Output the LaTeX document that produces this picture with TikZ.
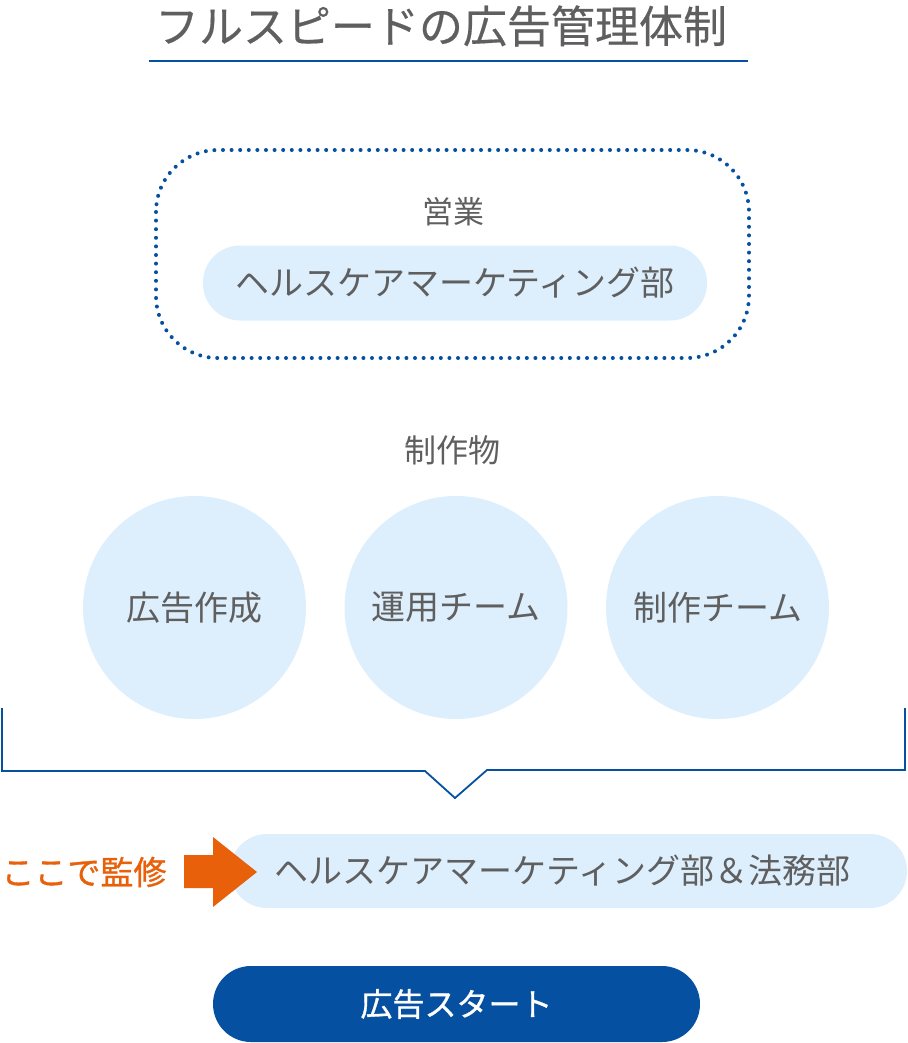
\documentclass[tikz,border=0pt]{standalone}
\usepackage{fontspec}
\newfontfamily\jpfont{Noto Sans CJK JP}
\newfontfamily\jpmed[FakeBold=1]{Noto Sans CJK JP}
\newfontfamily\jptitle[FakeBold=0.4]{Noto Sans CJK JP}
\definecolor{txtgray}{HTML}{5F5F5F}
\definecolor{navy}{HTML}{0550A0}
\definecolor{paleblue}{HTML}{DDEFFD}
\definecolor{kanshu}{HTML}{E8600A}
\begin{document}
\begin{tikzpicture}[
    x=1pt, y=-1pt,
    every node/.style={font=\jpfont, text=txtgray, inner sep=0pt},
    pill/.style={rectangle, rounded corners=37pt, fill=paleblue, minimum height=75pt},
    bubble/.style={circle, fill=paleblue, minimum size=223pt},
    label text/.style={font=\jpfont\fontsize{34}{40}\selectfont}
]
\useasboundingbox (0,0) rectangle (907,1043);
% title
\node (title) at (441,26) {\jptitle\fontsize{44}{50}\selectfont フルスピードの広告管理体制};
\draw[navy, line width=2pt] (149,61) -- (748,61);
% sales group
\draw[navy, line width=4pt, line cap=round, dash pattern=on 0pt off 8.6pt, rounded corners=62pt]
    (156,150) rectangle (749,358);
\node (eigyo) at (453,212) {\fontsize{31}{36}\selectfont 営業};
\node[pill, minimum width=504pt] (hcm) at (455,283) {};
\node[label text] at (hcm) {ヘルスケアマーケティング部};
% deliverables
\node (seisaku) at (452,450) {\fontsize{32}{38}\selectfont 制作物};
\node[bubble] (koukoku) at (194.5,607.5) {};
\node[bubble] (unyo) at (456,607.5) {};
\node[bubble] (seisakuteam) at (717.5,607.5) {};
\node[label text] at (koukoku) {広告作成};
\node[label text] at (unyo) {運用チーム};
\node[label text] at (seisakuteam) {制作チーム};
% bracket
\coordinate (bl) at (2,708);
\coordinate (br) at (905,708);
\coordinate (tip) at (455,798);
\draw[navy, line width=1.8pt] (bl) -- (2,771) -- (425,771) -- (tip) -- (487,770) -- (905,770) -- (br);
% review
\node[pill, minimum width=677pt, minimum height=74pt] (review) at (568.5,871) {};
\node[label text] at ([xshift=-6pt]review.center) {ヘルスケアマーケティング部＆法務部};
\node[font=\jpmed\fontsize{33}{38}\selectfont, text=kanshu] (koko) at (84,872) {ここで監修};
\fill[kanshu] (184,855) -- (213,855) -- (213,837) -- (257,872) -- (213,907) -- (213,888) -- (184,888) -- cycle;
% start
\node[pill, fill=navy, minimum width=487pt, minimum height=76pt, rounded corners=38pt] (start) at (456.5,1004) {};
\node[font=\jpmed\fontsize{32}{38}\selectfont, text=white] at (start) {広告スタート};
\end{tikzpicture}
\end{document}
